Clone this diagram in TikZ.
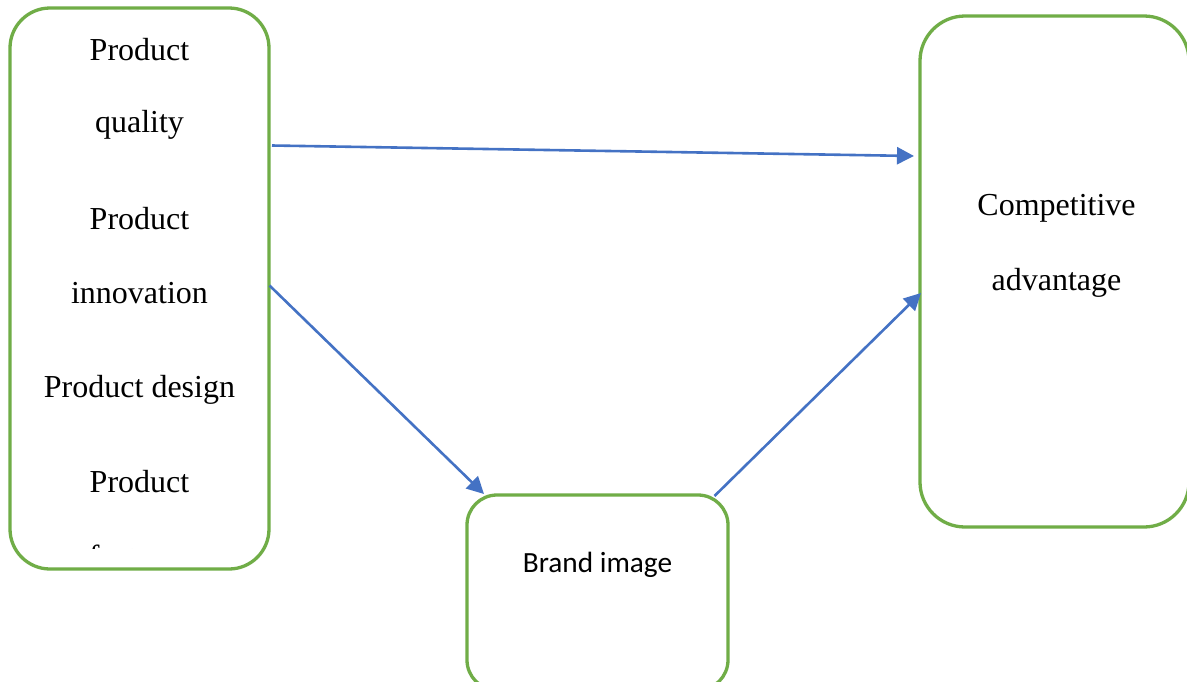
\documentclass[tikz,border=0pt]{standalone}
\usepackage{fontspec}
\setmainfont{Liberation Serif}
\newfontfamily\calfont{Carlito}
\usetikzlibrary{arrows.meta}
\definecolor{boxgreen}{HTML}{70AD47}
\definecolor{linkblue}{HTML}{4472C4}
\tikzset{
  frame/.style={draw=boxgreen, line width=3.3pt, rounded corners=#1, fill=white},
  label/.style={anchor=base, inner sep=0pt, font=\fontsize{32}{38}\selectfont},
  link/.style={draw=linkblue, line width=2.6pt,
    -{Triangle[length=17pt, width=17pt]}}
}
\begin{document}
\begin{tikzpicture}[x=1pt, y=-1pt]
  \useasboundingbox (0,0) rectangle (1187,681);
  \clip (0,0) rectangle (1187,681);
  \fill[white] (0,0) rectangle (1187,681);

  % boxes
  \draw[frame=40pt] (10,8) rectangle (269,569);
  \draw[frame=45pt] (920,16) rectangle (1189,527);
  \draw[frame=30pt] (467,495) rectangle (728,690);

  % left box text
  \node[label] (t1) at (139.5,60) {Product};
  \node[label] (t2) at (139.5,132) {quality};
  \node[label] (t3) at (139.5,229) {Product};
  \node[label] (t4) at (139.5,303) {innovation};
  \node[label] (t5) at (139.5,397) {Product design};
  \node[label] (t6) at (139.5,492.5) {Product};
  \begin{scope}
    \clip (12,10) rectangle (267,548);
    \node[label] (t7) at (139.5,567) {features};
  \end{scope}

  % right box text
  \node[label] (c1) at (1056.5,215) {Competitive};
  \node[label] (c2) at (1056.5,290) {advantage};

  % middle box text
  \node[anchor=base, inner sep=0pt, font=\calfont\fontsize{29.3}{35}\selectfont]
    (b1) at (597.5,572) {Brand image};

  % connector end points on the box outlines
  \coordinate (qOut) at (272,145.5);
  \coordinate (aInTop) at (914,156);
  \coordinate (iOut) at (269.5,285.5);
  \coordinate (bIn) at (484,494);
  \coordinate (bOut) at (714.5,496);
  \coordinate (aInLow) at (921,293);

  \draw[link] (qOut) -- (aInTop);
  \draw[link] (iOut) -- (bIn);
  \draw[link] (bOut) -- (aInLow);
\end{tikzpicture}
\end{document}
